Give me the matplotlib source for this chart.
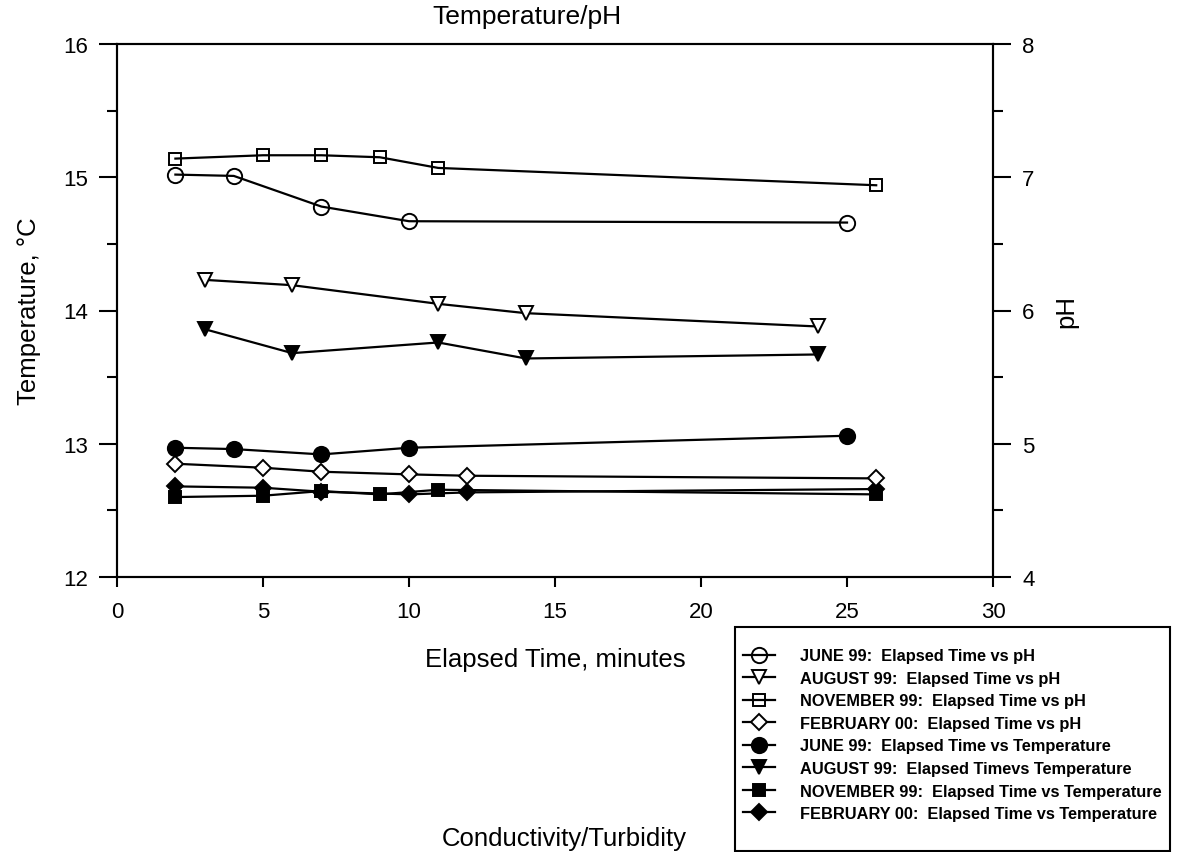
import matplotlib
matplotlib.use("Agg")
import matplotlib.pyplot as plt
from matplotlib.patches import Rectangle

plt.rcParams['font.family'] = ['Liberation Sans', 'DejaVu Sans']

# Elapsed time (minutes) and readings for each sampling campaign
june_t = [2, 4, 7, 10, 25]
june_ph = [7.02, 7.01, 6.78, 6.67, 6.66]
june_temp = [12.97, 12.96, 12.92, 12.97, 13.06]

aug_t = [3, 6, 11, 14, 24]
aug_ph = [6.23, 6.19, 6.05, 5.98, 5.88]
aug_temp = [13.86, 13.68, 13.76, 13.64, 13.67]

nov_t = [2, 5, 7, 9, 11, 26]
nov_ph = [7.14, 7.165, 7.165, 7.15, 7.07, 6.94]
nov_temp = [12.60, 12.61, 12.645, 12.62, 12.655, 12.62]

feb_t = [2, 5, 7, 10, 12, 26]
feb_ph = [4.85, 4.82, 4.79, 4.77, 4.76, 4.74]
feb_temp = [12.68, 12.67, 12.64, 12.62, 12.635, 12.66]

labels = [
    "JUNE 99:  Elapsed Time vs pH",
    "AUGUST 99:  Elapsed Time vs pH",
    "NOVEMBER 99:  Elapsed Time vs pH",
    "FEBRUARY 00:  Elapsed Time vs pH",
    "JUNE 99:  Elapsed Time vs Temperature",
    "AUGUST 99:  Elapsed Timevs Temperature",
    "NOVEMBER 99:  Elapsed Time vs Temperature",
    "FEBRUARY 00:  Elapsed Time vs Temperature",
]

W, H = 1179, 853
fig = plt.figure(figsize=(W / 100, H / 100), dpi=100)
ax = fig.add_axes([117 / W, 1 - 578 / H, (993 - 117) / W, (578 - 45) / H])
ax2 = ax.twinx()

lw = 1.6
common = dict(color='black', linewidth=lw, markeredgewidth=1.4)

# pH series (right axis), open markers
h1, = ax2.plot(june_t, june_ph, marker='o', ms=11, mfc='none', mec='black', **common)
h2, = ax2.plot(aug_t, aug_ph, marker='v', ms=10, mfc='white', mec='black', **common)
h3, = ax2.plot(nov_t, nov_ph, marker='s', ms=9, mfc='none', mec='black', **common)
h4, = ax2.plot(feb_t, feb_ph, marker='D', ms=7.8, mfc='white', mec='black', **common)

# temperature series (left axis), filled markers
h5, = ax.plot(june_t, june_temp, marker='o', ms=11, mfc='black', mec='black', **common)
h6, = ax.plot(aug_t, aug_temp, marker='v', ms=10, mfc='black', mec='black', **common)
h7, = ax.plot(nov_t, nov_temp, marker='s', ms=9, mfc='black', mec='black', **common)
h8, = ax.plot(feb_t, feb_temp, marker='D', ms=7.8, mfc='black', mec='black', **common)

ax.set_xlim(0, 30)
ax.set_ylim(12, 16)
ax2.set_ylim(4, 8)
ax.set_xticks([0, 5, 10, 15, 20, 25, 30])
ax.set_yticks([12, 13, 14, 15, 16])
ax.set_yticks([12.5, 13.5, 14.5, 15.5], minor=True)
ax2.set_yticks([4, 5, 6, 7, 8])
ax2.set_yticks([4.5, 5.5, 6.5, 7.5], minor=True)

for a in (ax, ax2):
    for s in a.spines.values():
        s.set_linewidth(1.5)
        s.set_color('black')

ax.tick_params(axis='x', which='major', direction='out', length=7, width=1.5,
               labelsize=16, pad=10)
ax.tick_params(axis='y', which='major', direction='out', length=13, width=1.5,
               labelsize=16, pad=8)
ax.tick_params(axis='y', which='minor', direction='out', length=7, width=1.5)
ax2.tick_params(axis='y', which='major', direction='out', length=13, width=1.5,
                labelsize=16, pad=8)
ax2.tick_params(axis='y', which='minor', direction='out', length=7, width=1.5)

ax.set_xlabel("Elapsed Time, minutes", fontsize=18.5, labelpad=18)
ax.set_ylabel("Temperature, °C", fontsize=18.5, labelpad=16)
ax2.set_ylabel("pH", fontsize=18.5, labelpad=14)

fig.text(527 / W, 1 - 17 / H, "Temperature/pH", fontsize=19,
         ha='center', va='center')

# legend box sits below the plot, to the right
fig.patches.append(Rectangle((735 / W, 1 - 852 / H), (1170 - 735) / W, (852 - 628) / H,
                             transform=fig.transFigure, fill=False,
                             edgecolor='black', linewidth=1.5))
fig.legend([h1, h2, h3, h4, h5, h6, h7, h8], labels,
           loc='upper left', bbox_to_anchor=(740 / W, 1 - 646 / H),
           frameon=False, prop={'size': 11.8, 'weight': 'bold'},
           handlelength=1.95, handletextpad=1.5, labelspacing=0.46,
           borderpad=0.2, borderaxespad=0)

fig.text(564 / W, 1 - 846 / H, "Conductivity/Turbidity", fontsize=18.5,
         ha='center', va='baseline')

fig.savefig("out.png", dpi=100)
